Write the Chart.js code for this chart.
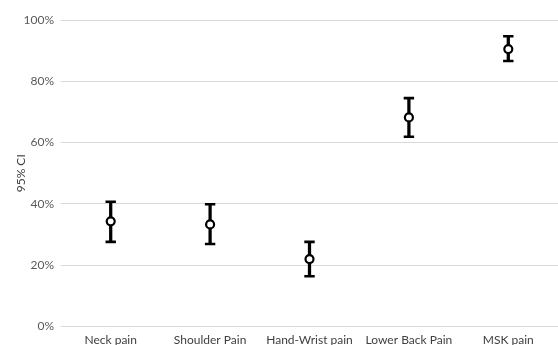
<!DOCTYPE html>
<html>
<head>
<meta charset="utf-8">
<script src="https://cdn.jsdelivr.net/npm/chart.js@4.4.1/dist/chart.umd.min.js"></script>
<style>
html,body{margin:0;padding:0;background:#fff;overflow:hidden;}
#wrap{width:558px;height:345px;position:relative;}
</style>
</head>
<body>
<div id="wrap"><canvas id="c" width="558" height="345"></canvas></div>
<script>
const categories = ["Neck pain", "Shoulder Pain", "Hand-Wrist pain", "Lower Back Pain", "MSK pain"];
const estimates = [34.3, 33.3, 22.0, 68.2, 90.5];
const lowerCI = [27.6, 26.9, 16.4, 61.9, 86.6];
const upperCI = [40.7, 39.9, 27.6, 74.5, 94.7];
const yTicks = [0, 20, 40, 60, 80, 100];

const FONT = "Lato, 'Open Sans', sans-serif";
const ink = "#000000";

new Chart(document.getElementById('c'), {
  data: {
    labels: categories,
    datasets: [
      {
        type: 'line',
        data: estimates,
        showLine: false,
        pointStyle: 'circle',
        pointRadius: 4,
        pointBackgroundColor: '#ffffff',
        pointBorderColor: ink,
        pointBorderWidth: 2.2,
        order: 0
      },
      {
        type: 'line',
        data: upperCI,
        showLine: false,
        pointStyle: 'line',
        pointRadius: 5.2,
        pointBorderColor: ink,
        pointBorderWidth: 2.6,
        order: 1
      },
      {
        type: 'line',
        data: lowerCI,
        showLine: false,
        pointStyle: 'line',
        pointRadius: 5.2,
        pointBorderColor: ink,
        pointBorderWidth: 2.6,
        order: 1
      },
      {
        type: 'bar',
        data: categories.map((_, i) => [lowerCI[i], upperCI[i]]),
        backgroundColor: ink,
        borderWidth: 0,
        barThickness: 2.6,
        order: 2
      }
    ]
  },
  options: {
    responsive: false,
    animation: false,
    events: [],
    layout: { autoPadding: false, padding: { top: 20, left: 0, right: 0, bottom: 0 } },
    plugins: { legend: { display: false }, tooltip: { enabled: false } },
    scales: {
      x: {
        type: 'category',
        grid: { display: false, drawTicks: false },
        border: { display: false },
        ticks: { color: '#404040', font: { family: FONT, size: 12 }, padding: 6, maxRotation: 0, autoSkip: false },
        afterFit: (s) => { s.height = 18.5; s.paddingRight = 0; s.paddingLeft = 0; }
      },
      y: {
        min: 0, max: 100,
        afterBuildTicks: (s) => { s.ticks = yTicks.map(v => ({ value: v })); },
        grid: { color: '#d9d9d9', lineWidth: 1, drawTicks: false },
        border: { display: false },
        ticks: { color: '#595959', font: { family: FONT, size: 12 }, padding: 7, callback: (v) => v + '%' },
        title: { display: true, text: '95% CI', color: '#404040', font: { family: FONT, size: 12 }, padding: { top: 14, bottom: 0 } },
        afterFit: (s) => { s.width = 61; s.paddingTop = 0; s.paddingBottom = 0; }
      }
    }
  }
});
</script>
</body>
</html>
